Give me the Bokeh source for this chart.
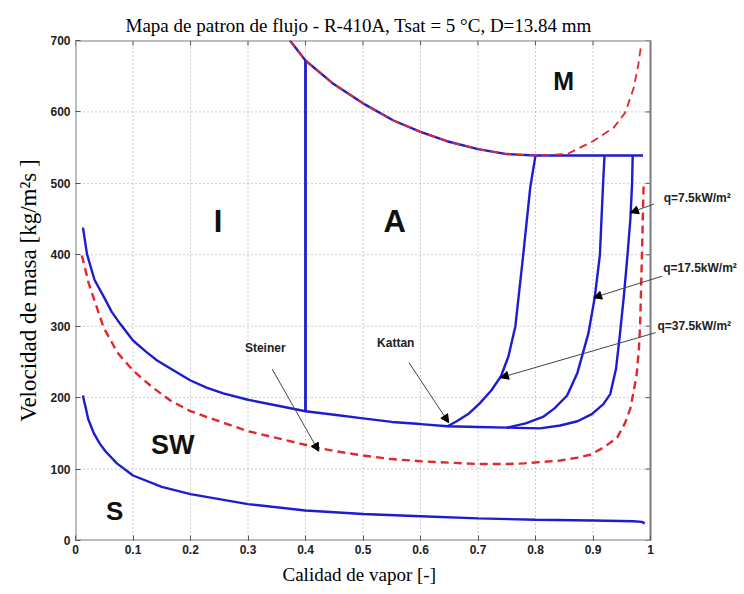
from bokeh.plotting import figure
from bokeh.models import Range1d, FixedTicker, Label, Arrow, NormalHead, Title
from bokeh.embed import file_html
from bokeh.resources import INLINE

# ---- axes ----
x_ticks = [0, 0.1, 0.2, 0.3, 0.4, 0.5, 0.6, 0.7, 0.8, 0.9, 1.0]
x_tick_labels = ["0", "0.1", "0.2", "0.3", "0.4", "0.5", "0.6", "0.7", "0.8", "0.9", "1"]
y_ticks = [0, 100, 200, 300, 400, 500, 600, 700]
y_tick_labels = ["0", "100", "200", "300", "400", "500", "600", "700"]

# ---- curves ----
# stratified / stratified-wavy boundary (Kattan)
s_x = [0.013, 0.015, 0.018, 0.022, 0.032, 0.042, 0.052, 0.072, 0.1, 0.15, 0.2, 0.3, 0.4, 0.5, 0.6, 0.7, 0.8, 0.9, 0.97, 0.985, 0.99]
s_y = [203, 195, 185, 170, 150, 136, 125, 108, 91, 75, 65, 51, 42, 37, 34, 31, 29, 28, 27, 26, 24]

# wavy boundary (Kattan)
w_x = [0.013, 0.02, 0.033, 0.05, 0.063, 0.078, 0.1, 0.123, 0.142, 0.173, 0.2, 0.228, 0.257, 0.3, 0.35, 0.4, 0.45, 0.5, 0.55, 0.6, 0.647, 0.7, 0.75, 0.808]
w_y = [438, 401, 365, 340, 320, 303, 280, 264, 252, 237, 224, 214, 206, 197, 189, 181, 176, 171, 166, 163, 160, 159, 158, 157]

# dryout branches
d1_x = [0.647, 0.663, 0.683, 0.703, 0.723, 0.74, 0.753, 0.765, 0.778, 0.791, 0.8]
d1_y = [160, 167, 177, 192, 210, 230, 258, 300, 395, 495, 539]
d2_x = [0.75, 0.783, 0.813, 0.833, 0.855, 0.873, 0.892, 0.903, 0.912, 0.917, 0.92]
d2_y = [158, 164, 173, 185, 203, 235, 290, 340, 400, 490, 539]
d3_x = [0.808, 0.843, 0.873, 0.898, 0.918, 0.93, 0.94, 0.947, 0.954, 0.96, 0.965, 0.968, 0.969]
d3_y = [157, 161, 167, 177, 191, 205, 240, 290, 345, 400, 450, 500, 539]

# annular / mist boundary (Kattan)
am_x = [0.373, 0.4, 0.449, 0.5, 0.553, 0.6, 0.646, 0.7, 0.75, 0.8, 0.987]
am_y = [700, 672, 639, 612, 588, 572, 559, 548, 541, 539, 539]

# intermittent / annular boundary
ia_x = [0.4, 0.4]
ia_y = [181, 672]

# Steiner curves
st_up_x = [0.373, 0.4, 0.449, 0.5, 0.553, 0.6, 0.646, 0.7, 0.75, 0.8, 0.855, 0.9, 0.936, 0.956, 0.971, 0.979, 0.983]
st_up_y = [700, 672, 639, 612, 588, 572, 559, 548, 541, 539, 541, 559, 578, 599, 634, 667, 690]
st_low_x = [0.011, 0.023, 0.049, 0.073, 0.1, 0.133, 0.165, 0.2, 0.253, 0.3, 0.363, 0.42, 0.453, 0.5, 0.55, 0.6, 0.65, 0.7, 0.75, 0.78, 0.843, 0.873, 0.895, 0.918, 0.942, 0.956, 0.965, 0.971, 0.976, 0.98, 0.982, 0.985, 0.988]
st_low_y = [399, 360, 298, 263, 238, 215, 196, 181, 166, 153, 141, 130, 125, 119, 114, 111, 109, 107, 107, 108, 112, 116, 120, 130, 144, 165, 185, 210, 233, 270, 303, 396, 499]

BLUE = "#1c1cd0"
RED = "#e0282e"
FRAME = "#7a7a7a"
TICK = "#555555"
GRID = "#9a9a9a"
SANS = "Liberation Sans"
SERIF = "Liberation Serif"

x_lo, x_hi = x_ticks[0], x_ticks[-1]
y_lo, y_hi = y_ticks[0], y_ticks[-1]
frame_left, frame_width = 75, 575
x_view_end = x_hi * (744 - frame_left) / frame_width   # room for the annotations right of x = 1

p = figure(width=744, height=594, x_range=Range1d(x_lo, x_view_end), y_range=Range1d(y_lo, y_hi),
           output_backend="svg", toolbar_location=None,
           min_border_left=frame_left, min_border_right=0, min_border_top=40, min_border_bottom=54,
           title="Mapa de patron de flujo - R-410A, Tsat = 5 \u00b0C, D=13.84 mm")
p.title.align = "left"
p.title.offset = 50
p.title.text_font = SERIF
p.title.text_font_size = "19px"
p.title.text_font_style = "normal"
p.title.text_color = "black"
p.outline_line_color = None
p.background_fill_color = "white"
p.border_fill_color = "white"
p.xgrid.visible = False
p.ygrid.visible = False

for ax, ticks, labels in ((p.xaxis[0], x_ticks, x_tick_labels), (p.yaxis[0], y_ticks, y_tick_labels)):
    ax.ticker = FixedTicker(ticks=ticks)
    ax.major_label_overrides = {t: l for t, l in zip(ticks, labels)}
    ax.axis_line_color = None
    ax.major_tick_in = 5
    ax.major_tick_out = 0
    ax.major_tick_line_color = TICK
    ax.minor_tick_line_color = None
    ax.major_label_text_font = SANS
    ax.major_label_text_font_style = "bold"
    ax.major_label_text_font_size = "12px"
    ax.major_label_text_color = "#222222"
    ax.axis_label_text_font = SERIF
    ax.axis_label_text_font_style = "normal"
    ax.axis_label_text_color = "black"

p.xaxis[0].bounds = (x_lo, x_hi)
p.xaxis[0].major_label_standoff = 4
p.yaxis[0].axis_label = "Velocidad de masa [kg/m\u00b2s ]"
p.yaxis[0].axis_label_text_font_size = "23px"
p.yaxis[0].major_label_standoff = 5
p.yaxis[0].axis_label_standoff = 6

# x axis title, centred under the 0..1 data frame
p.add_layout(Title(text="Calidad de vapor [-]", align="left", offset=207, text_font=SERIF,
                   text_font_size="19px", text_font_style="normal", text_color="black"), "below")

# dotted grid, restricted to the data frame
gx = x_ticks[1:-1]
gy = y_ticks[1:-1]
p.segment(x0=gx, y0=[y_lo] * len(gx), x1=gx, y1=[y_hi] * len(gx),
          line_color=GRID, line_width=1, line_dash="1 3")
p.segment(x0=[x_lo] * len(gy), y0=gy, x1=[x_hi] * len(gy), y1=gy,
          line_color=GRID, line_width=1, line_dash="1 3")

# inward ticks on the top and right edges (5 px long)
tick_dy = 5 * (y_hi - y_lo) / 500
tick_dx = 5 * x_hi / frame_width
n_x, n_y = len(x_ticks), len(y_ticks)
p.segment(x0=x_ticks, y0=[y_hi] * n_x, x1=x_ticks, y1=[y_hi - tick_dy] * n_x,
          line_color=TICK, line_width=1)
p.segment(x0=[x_hi] * n_y, y0=y_ticks, x1=[x_hi - tick_dx] * n_y, y1=y_ticks,
          line_color=TICK, line_width=1)

# frame box around the data area
p.line(x=[x_lo, x_hi, x_hi, x_lo, x_lo], y=[y_lo, y_lo, y_hi, y_hi, y_lo],
       line_color=FRAME, line_width=2)

lw = 2.4
p.line(st_low_x, st_low_y, line_color=RED, line_width=lw, line_dash="8 5")
p.line(s_x, s_y, line_color=BLUE, line_width=lw)
p.line(w_x, w_y, line_color=BLUE, line_width=lw)
p.line(d1_x, d1_y, line_color=BLUE, line_width=lw)
p.line(d2_x, d2_y, line_color=BLUE, line_width=lw)
p.line(d3_x, d3_y, line_color=BLUE, line_width=lw)
p.line(am_x, am_y, line_color=BLUE, line_width=lw)
p.line(ia_x, ia_y, line_color=BLUE, line_width=lw + 0.4)
p.line(st_up_x, st_up_y, line_color=RED, line_width=lw - 0.6, line_dash="8 5")

# region labels
for txt, x, y, size in (("I", 0.248, 446, "31px"), ("A", 0.555, 446, "31px"), ("M", 0.849, 644, "25px"),
                        ("SW", 0.169, 134, "27px"), ("S", 0.068, 42, "26px")):
    p.add_layout(Label(x=x, y=y, text=txt, text_font=SANS, text_font_style="bold",
                       text_font_size=size, text_align="center", text_baseline="middle",
                       text_color="#111111"))

# annotation labels
for txt, x, y, align in (("Steiner", 0.33, 270, "center"), ("Kattan", 0.557, 277, "center"),
                         ("q=7.5kW/m\u00b2", 1.023, 480, "left"), ("q=17.5kW/m\u00b2", 1.022, 381, "left"),
                         ("q=37.5kW/m\u00b2", 1.012, 300, "left")):
    p.add_layout(Label(x=x, y=y, text=txt, text_font=SANS, text_font_style="bold",
                       text_font_size="12px", text_align=align, text_baseline="middle",
                       text_color="#222222"))

for xs, ys, xe, ye in ((0.342, 240, 0.423, 125), (0.58, 249, 0.649, 165), (1.006, 471, 0.965, 459),
                       (1.02, 370, 0.901, 340), (1.009, 291, 0.739, 228)):
    p.add_layout(Arrow(end=NormalHead(size=8, fill_color="black", line_color="black", line_width=1),
                       x_start=xs, y_start=ys, x_end=xe, y_end=ye,
                       line_color="#444444", line_width=1))

open("out.html", "w").write(file_html(p, INLINE))
